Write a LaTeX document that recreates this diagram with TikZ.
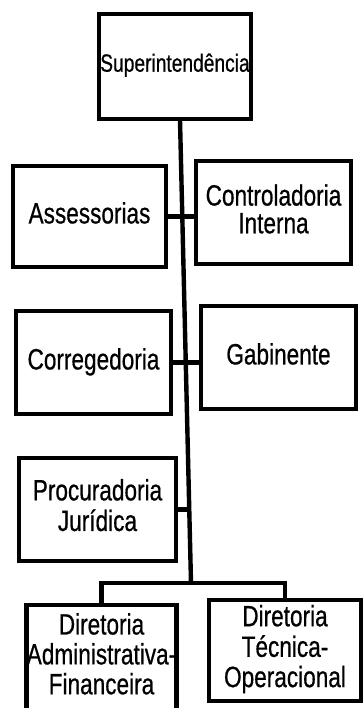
\documentclass[tikz,border=0pt]{standalone}
\usepackage{fontspec}
\setmainfont{Liberation Sans}
\newfontfamily\scanfont[FakeBold=0.7]{Liberation Sans}
\usepackage{graphicx}
\newcommand\boxtext[3]{\scalebox{1}[1.3]{\scanfont\fontsize{#1}{#2}\selectfont\begin{tabular}{@{}c@{}}#3\end{tabular}}}
\begin{document}
\begin{tikzpicture}[x=1pt,y=-1pt,
  orgbox/.style={draw, line width=4.6pt, rectangle, inner sep=0pt, fill=white},
  link/.style={line width=4.4pt}]
\useasboundingbox (0,0) rectangle (363,708);
\clip (0,0) rectangle (363,708);
% trunk
\coordinate (ttop) at (180,120);
\coordinate (tbot) at (191,583);
\draw[link] (ttop) -- (tbot);
% boxes
\node[orgbox, minimum width=152pt, minimum height=105pt] (sup) at (175,66.5) {\boxtext{19.2}{20}{Superintendência}};
\node[orgbox, minimum width=153pt, minimum height=101pt] (as) at (89.5,216.5) {\boxtext{22.6}{19}{Assessorias}};
\node[orgbox, minimum width=155pt, minimum height=103pt] (co) at (273.5,212.5) {\boxtext{22.6}{19.2}{Controladoria\\Interna}};
\node[orgbox, minimum width=155pt, minimum height=103pt] (cr) at (93.5,362.5) {\boxtext{22.6}{19}{Corregedoria}};
\node[orgbox, minimum width=155pt, minimum height=103pt] (ga) at (278.5,357.5) {\boxtext{22.6}{19}{Gabinente}};
\node[orgbox, minimum width=157pt, minimum height=103pt] (pr) at (97.5,509.5) {\boxtext{22.6}{23}{Procuradoria\\Jurídica}};
\node[orgbox, minimum width=149pt, minimum height=106pt] (ad) at (101.5,658) {\boxtext{22.6}{22}{Diretoria\\Administrativa-\\Financeira}};
\node[orgbox, minimum width=152pt, minimum height=101pt] (te) at (285,650.5) {\raisebox{-4pt}{\boxtext{22.6}{23}{Diretoria\\Técnica-\\Operacional}}};
% connectors
\draw[link] (as.east) -- (as.east -| co.west);
\draw[link] (cr.east) -- (cr.east -| ga.west);
\coordinate (pj) at (189,509.5);
\draw[link] (pr.east) -- (pj);
\draw[link] (ad.north) |- (tbot) -| (te.north);
\end{tikzpicture}
\end{document}
